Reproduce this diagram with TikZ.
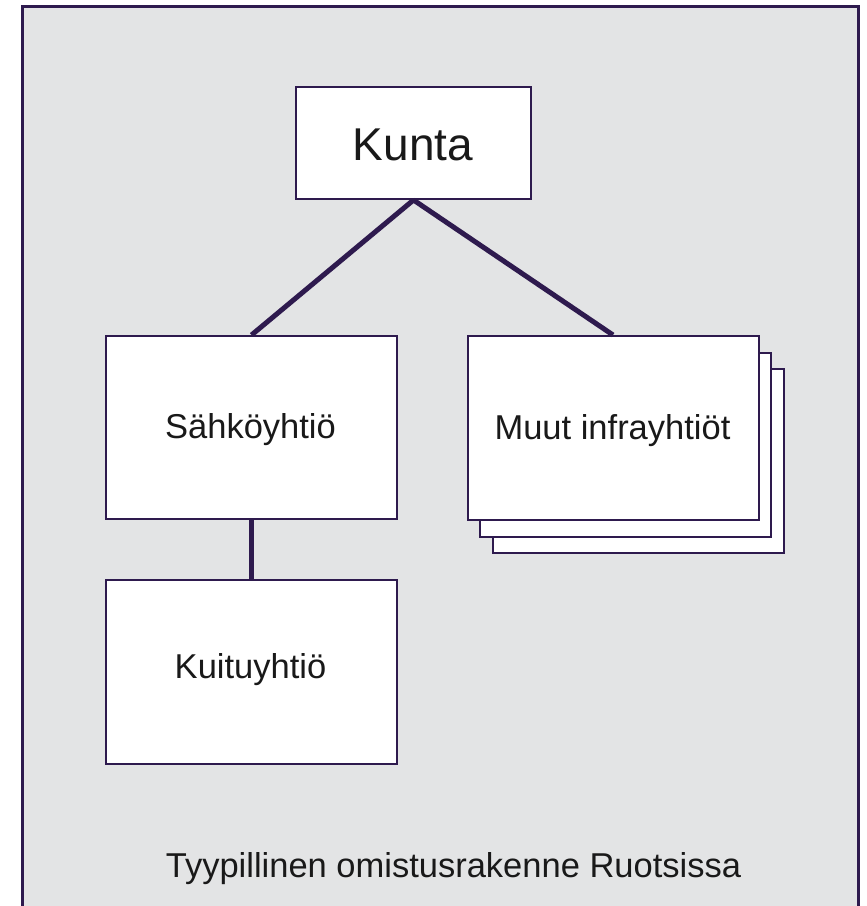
\documentclass[tikz,border=0pt]{standalone}
\usepackage{fontspec}
\setmainfont{Liberation Sans}
\definecolor{frame}{HTML}{2E1A4E}
\definecolor{bggray}{HTML}{E3E4E5}
\tikzset{
  box/.style={draw=frame, line width=2pt, fill=white, inner sep=0pt},
  conn/.style={draw=frame, line width=5pt},
  lbl/.style={font=\fontsize{34.5}{40}\selectfont, text=black!90, anchor=base, inner sep=0pt},
}
\begin{document}
\begin{tikzpicture}[x=1pt,y=-1pt]
\useasboundingbox (0,0) rectangle (867,906);
\fill[white] (0,0) rectangle (867,906);
\draw[frame, line width=3pt, fill=bggray] (22.5,920) -- (22.5,6.5) -- (858,6.5) -- (858,920);
% nodes
\node[box, minimum width=235pt, minimum height=112pt, anchor=north west] (kunta) at (295,86) {};
\node[lbl, font=\fontsize{46}{50}\selectfont] (kuntaT) at (413,160) {Kunta};
\node[box, minimum width=291pt, minimum height=183pt, anchor=north west] (sahko) at (105,335) {};
\node[lbl] (sahkoT) at (250.5,438) {Sähköyhtiö};
\node[box, minimum width=291pt, minimum height=184pt, anchor=north west] (kuitu) at (105,579) {};
\node[lbl] (kuituT) at (250.5,678) {Kuituyhtiö};
\node[box, minimum width=291pt, minimum height=184pt, anchor=north west] (muut3) at (492,368) {};
\node[box, minimum width=291pt, minimum height=184pt, anchor=north west] (muut2) at (479,352) {};
\node[box, minimum width=291pt, minimum height=184pt, anchor=north west] (muut) at (467,335) {};
\node[lbl] (muutT) at (612.5,439) {Muut infrayhtiöt};
\node[lbl] (cap) at (453.5,877) {Tyypillinen omistusrakenne Ruotsissa};
% connectors
\coordinate (apex) at (kunta.south);
\draw[conn] (apex) -- (sahko.north);
\draw[conn] (apex) -- ([xshift=-0.5pt]muut.north);
\draw[conn] (sahko.south) -- (kuitu.north);
\end{tikzpicture}
\end{document}
